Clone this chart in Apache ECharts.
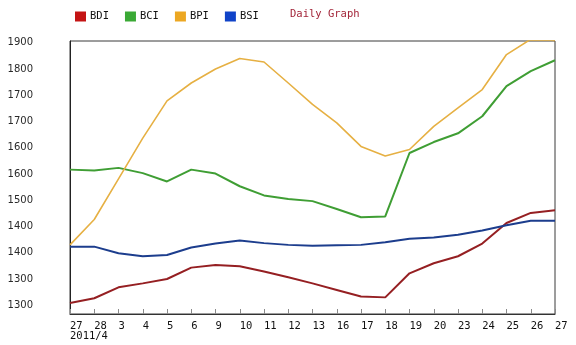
<!DOCTYPE html>
<html>
<head>
<meta charset="utf-8">
<title>Daily Graph</title>
<script src="https://cdn.jsdelivr.net/npm/echarts@6/dist/echarts.min.js"></script>
<style>
  html, body { margin: 0; padding: 0; background: #ffffff; }
  #chart { width: 576px; height: 345px; }
</style>
</head>
<body>
<div id="chart"></div>
<script>
// Trading days shown on the x axis
const categories = ['27', '28', '3', '4', '5', '6', '9', '10', '11', '12', '13', '16', '17', '18', '19', '20', '23', '24', '25', '26', '27'];
const monthLabel = '2011/4';

// Index values per trading day
const bdi = [1265, 1276, 1301, 1310, 1320, 1346, 1352, 1349, 1337, 1324, 1310, 1295, 1280, 1278, 1333, 1356, 1372, 1401, 1448, 1471, 1477];
const bci = [1570, 1568, 1574, 1562, 1543, 1570, 1561, 1532, 1511, 1503, 1498, 1480, 1461, 1463, 1608, 1633, 1653, 1692, 1761, 1795, 1820];
const bpi = [1398, 1456, 1549, 1642, 1727, 1768, 1800, 1824, 1816, 1768, 1719, 1677, 1623, 1601, 1616, 1669, 1711, 1753, 1833, 1868, 1865];
const bsi = [1394, 1394, 1379, 1372, 1375, 1392, 1401, 1408, 1402, 1398, 1396, 1397, 1398, 1404, 1412, 1415, 1421, 1431, 1443, 1453, 1453];

// Y axis tick positions and the rounded text printed at each
const yTickValues = [1260, 1320, 1380, 1440, 1500, 1560, 1620, 1680, 1740, 1800, 1860];
const yTickLabels = ['1300', '1300', '1400', '1400', '1500', '1600', '1600', '1700', '1700', '1800', '1900'];

const seriesDefs = [
  { name: 'BDI', data: bdi, line: '#951f22', swatch: '#c41414' },
  { name: 'BCI', data: bci, line: '#3f9e34', swatch: '#3aa935' },
  { name: 'BPI', data: bpi, line: '#e6b043', swatch: '#eca722' },
  { name: 'BSI', data: bsi, line: '#1c3d8d', swatch: '#1043c8' }
];

const monoFont = '"DejaVu Sans Mono", "Liberation Mono", monospace';

const chart = echarts.init(document.getElementById('chart'), null, { renderer: 'canvas' });

chart.setOption({
  animation: false,
  backgroundColor: '#ffffff',
  title: {
    text: 'Daily Graph',
    left: 290,
    top: 9,
    padding: 0,
    textStyle: { fontFamily: monoFont, fontSize: 10.5, fontWeight: 'normal', color: '#a3263a' }
  },
  legend: {
    left: 75,
    top: 11,
    padding: 0,
    itemWidth: 11,
    itemHeight: 10,
    itemGap: 16,
    icon: 'rect',
    textStyle: { fontFamily: monoFont, fontSize: 10.5, color: '#111111', padding: [0, 0, 0, -1] },
    data: seriesDefs.map(s => ({ name: s.name, itemStyle: { color: s.swatch } }))
  },
  grid: {
    left: 70,
    top: 41,
    width: 485,
    height: 273,
    show: true,
    borderColor: '#3a3a3a',
    borderWidth: 1,
    containLabel: false
  },
  xAxis: {
    type: 'category',
    data: categories,
    boundaryGap: false,
    axisLine: { lineStyle: { color: '#333333', width: 1 } },
    axisTick: { inside: true, length: 5, interval: 0, lineStyle: { color: '#8a8a8a' } },
    axisLabel: {
      interval: 0,
      align: 'left',
      margin: 7,
      color: '#111111',
      fontFamily: monoFont,
      fontSize: 10.5,
      lineHeight: 10,
      formatter: (value, index) => index === 0 ? value + '\n' + monthLabel : value
    },
    splitLine: { show: false }
  },
  yAxis: {
    type: 'value',
    min: 1240,
    max: 1864,
    axisLine: { show: true, lineStyle: { color: '#222222' } },
    axisTick: { show: false },
    splitLine: { show: false },
    axisLabel: {
      customValues: yTickValues,
      margin: 37,
      color: '#2a2a2a',
      fontFamily: '"DejaVu Sans", Verdana, sans-serif',
      fontSize: 10,
      formatter: (value) => {
        const i = yTickValues.indexOf(value);
        return i >= 0 ? yTickLabels[i] : '';
      }
    }
  },
  series: seriesDefs.map(s => ({
    name: s.name,
    type: 'line',
    data: s.data,
    showSymbol: false,
    symbol: 'none',
    smooth: false,
    clip: true,
    color: s.line,
    lineStyle: { color: s.line, width: s.name === 'BPI' ? 1.6 : 2 }
  }))
});
</script>
</body>
</html>
